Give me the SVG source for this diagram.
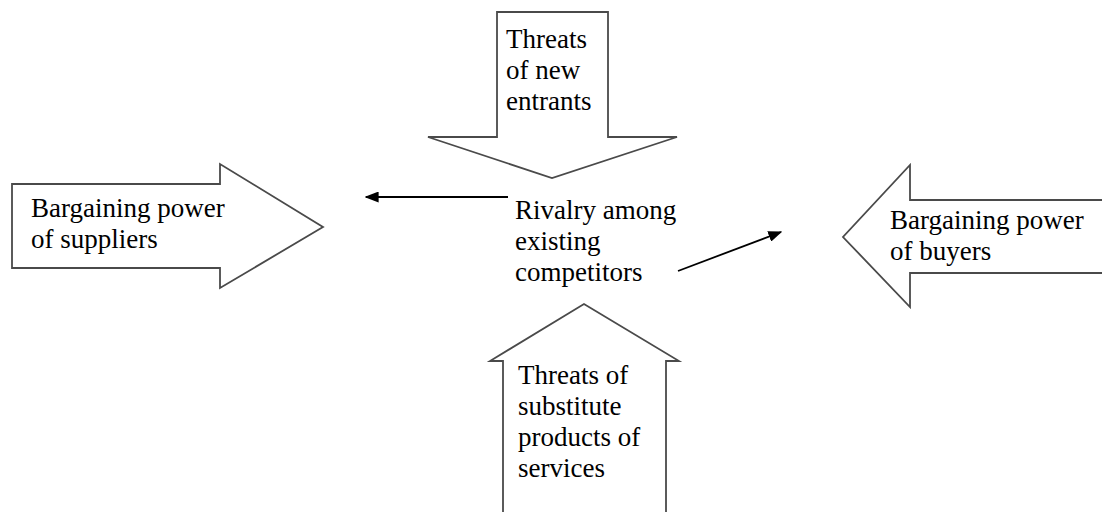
<svg xmlns="http://www.w3.org/2000/svg" width="1102" height="512" viewBox="0 0 1102 512">
<defs>
<style>
.shape{fill:#fff;stroke:#4a4a4a;stroke-width:1.8;stroke-linejoin:miter}
.t{font-family:"Liberation Serif","Times New Roman",serif;font-size:27px;fill:#000}
.conn{stroke:#000;stroke-width:1.8;fill:none}
</style>
<marker id="ah" viewBox="0 0 10 10" refX="9" refY="5" markerWidth="14" markerHeight="11" markerUnits="userSpaceOnUse" orient="auto" preserveAspectRatio="none">
<path d="M0,0 L10,5 L0,10 Z" fill="#000"/>
</marker>
</defs>
<rect width="1102" height="512" fill="#fff"/>
<g id="suppliers">
<polygon class="shape" points="12,184 220,184 220,164 323,227 220,288 220,268 12,268"/>
<text class="t" x="31" y="217">Bargaining power</text>
<text class="t" x="31" y="248">of suppliers</text>
</g>
<g id="new-entrants">
<polygon class="shape" points="497,12 608,12 608,137 677,137 552,178 428,137 497,137"/>
<text class="t" x="506" y="48">Threats</text>
<text class="t" x="506" y="79">of new</text>
<text class="t" x="506" y="110">entrants</text>
</g>
<g id="buyers">
<polygon class="shape" points="1104,200 910,200 910,165 843,237 910,307 910,273 1104,273"/>
<text class="t" x="890" y="229">Bargaining power</text>
<text class="t" x="890" y="260">of buyers</text>
</g>
<g id="substitutes">
<polygon class="shape" points="503,514 503,361 490,361 584,304 679,361 666,361 666,514"/>
<text class="t" x="518" y="384">Threats of</text>
<text class="t" x="518" y="415">substitute</text>
<text class="t" x="518" y="446">products of</text>
<text class="t" x="518" y="477">services</text>
</g>
<g id="rivalry">
<text class="t" x="515" y="219">Rivalry among</text>
<text class="t" x="515" y="250">existing</text>
<text class="t" x="515" y="281">competitors</text>
</g>
<g id="connectors">
<line class="conn" x1="508" y1="197" x2="366" y2="197" marker-end="url(#ah)"/>
<line class="conn" x1="678" y1="271" x2="781" y2="232" marker-end="url(#ah)"/>
</g>
</svg>
